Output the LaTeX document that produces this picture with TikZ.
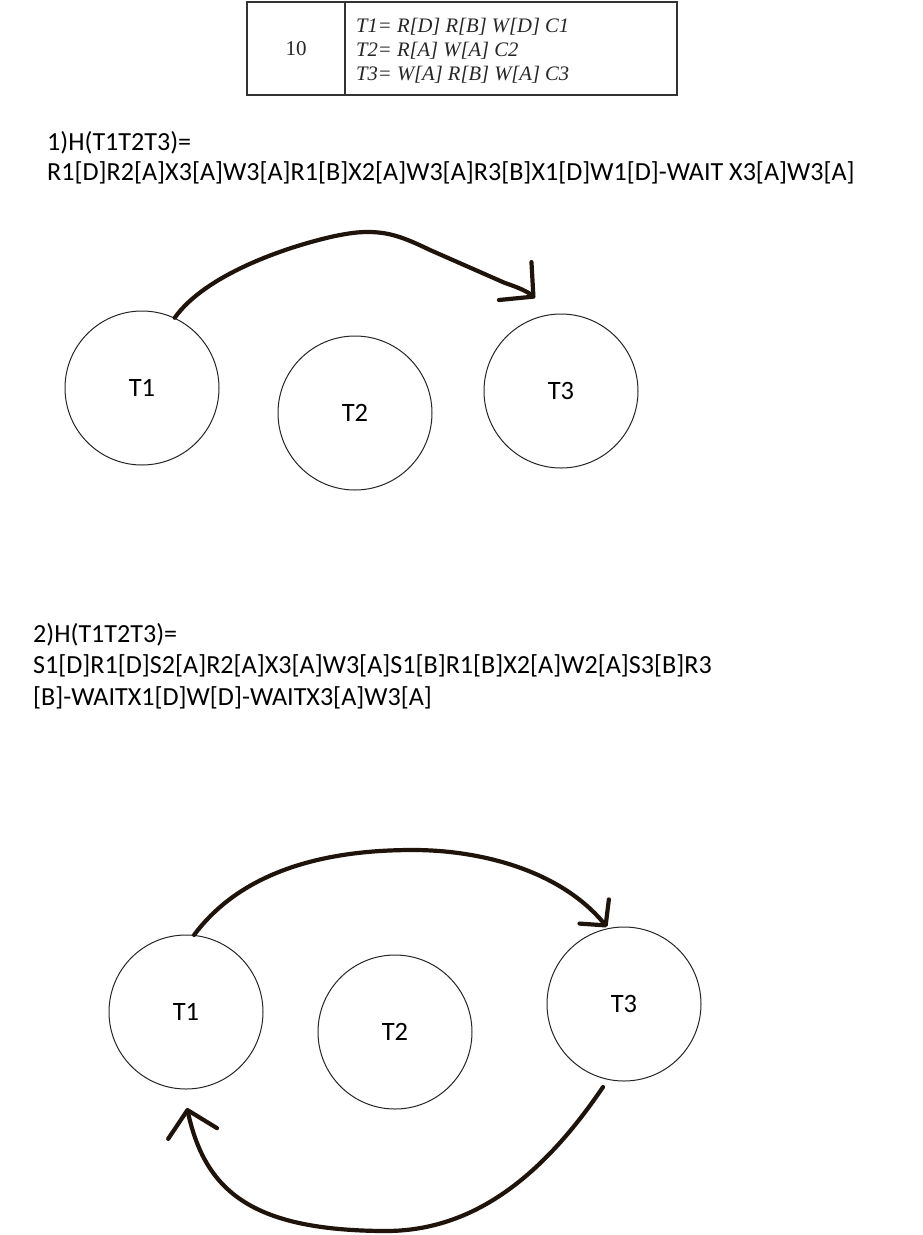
\documentclass[tikz,border=0pt]{standalone}
\usepackage{fontspec}
\setmainfont{Carlito}
\newfontfamily\tabfont{Liberation Serif}
\usetikzlibrary{arrows.meta}
\definecolor{ink}{HTML}{1E140C}
\definecolor{tabline}{HTML}{333333}
\tikzset{
  tnode/.style={circle,draw=black!85,line width=1pt,minimum size=154pt,inner sep=0pt,
     font=\fontsize{26.5}{30}\selectfont},
  htext/.style={anchor=base west,inner sep=0pt,font=\fontsize{26.1}{30}\selectfont},
  tabtext/.style={anchor=base west,inner sep=0pt,font=\tabfont\itshape\fontsize{20.6}{24}\selectfont,text=black!85},
  bigarrow/.style={line width=4.2pt,draw=ink,line cap=round,
     -{Straight Barb[length=24pt,width=50pt,round]}},
  smallarrow/.style={line width=4.2pt,draw=ink,line cap=round,
     -{Straight Barb[length=18pt,width=38pt,round]}},
}
\begin{document}
\begin{tikzpicture}[x=1pt,y=-1pt]
\useasboundingbox (0,0) rectangle (923,1235);
\fill[white] (0,0) rectangle (923,1235);
% table
\draw[tabline,line width=2pt] (247,2) rectangle (677,95);
\draw[tabline,line width=2pt] (345,2) -- (345,95);
\node[inner sep=0pt,font=\tabfont\fontsize{21}{24}\selectfont,text=black!85] (num) at (296,49) {10};
\node[tabtext] (t1def) at (356,32) {T1= R[D] R[B] W[D] C1};
\node[tabtext] (t2def) at (356,56) {T2= R[A] W[A] C2};
\node[tabtext] (t3def) at (356,80) {T3= W[A] R[B] W[A] C3};
% section 1 text
\node[htext] (h1a) at (47,150) {1)H(T1T2T3)=};
\node[htext] (h1b) at (47,180) {R1[D]R2[A]X3[A]W3[A]R1[B]X2[A]W3[A]R3[B]X1[D]W1[D]-WAIT X3[A]W3[A]};
% section 1 graph
\node[tnode] (A1) at (142,388) {T1};
\node[tnode] (A2) at (355,413) {T2};
\node[tnode] (A3) at (561,391) {T3};
\coordinate (A3in) at (535,298);
\draw[bigarrow] (A1.65) .. controls (205,275) and (285,247) .. (335,236)
   .. controls (350,233) and (358,232) .. (368,232)
   .. controls (390,232) and (405,238) .. (430,250) -- (505,283)
   .. controls (520,288) and (528,292) .. (A3in);
% section 2 text
\node[htext] (h2a) at (33,642) {2)H(T1T2T3)=};
\node[htext] (h2b) at (33,673) {S1[D]R1[D]S2[A]R2[A]X3[A]W3[A]S1[B]R1[B]X2[A]W2[A]S3[B]R3};
\node[htext] (h2c) at (33,705) {[B]-WAITX1[D]W[D]-WAITX3[A]W3[A]};
% section 2 graph
\node[tnode] (B1) at (186,1012) {T1};
\node[tnode] (B2) at (395,1032) {T2};
\node[tnode] (B3) at (624,1004) {T3};
\coordinate (B3in) at (607,927);
\coordinate (B3out) at (603,1087);
\coordinate (B1in) at (187,1108);
\draw[smallarrow] (B1.84) .. controls (250,860) and (350,850) .. (413,850)
   .. controls (480,850) and (560,870) .. (B3in);
\draw[bigarrow] (B3out) .. controls (540,1180) and (470,1232) .. (383,1231)
   .. controls (250,1230) and (205,1190) .. (B1in);
\end{tikzpicture}
\end{document}
